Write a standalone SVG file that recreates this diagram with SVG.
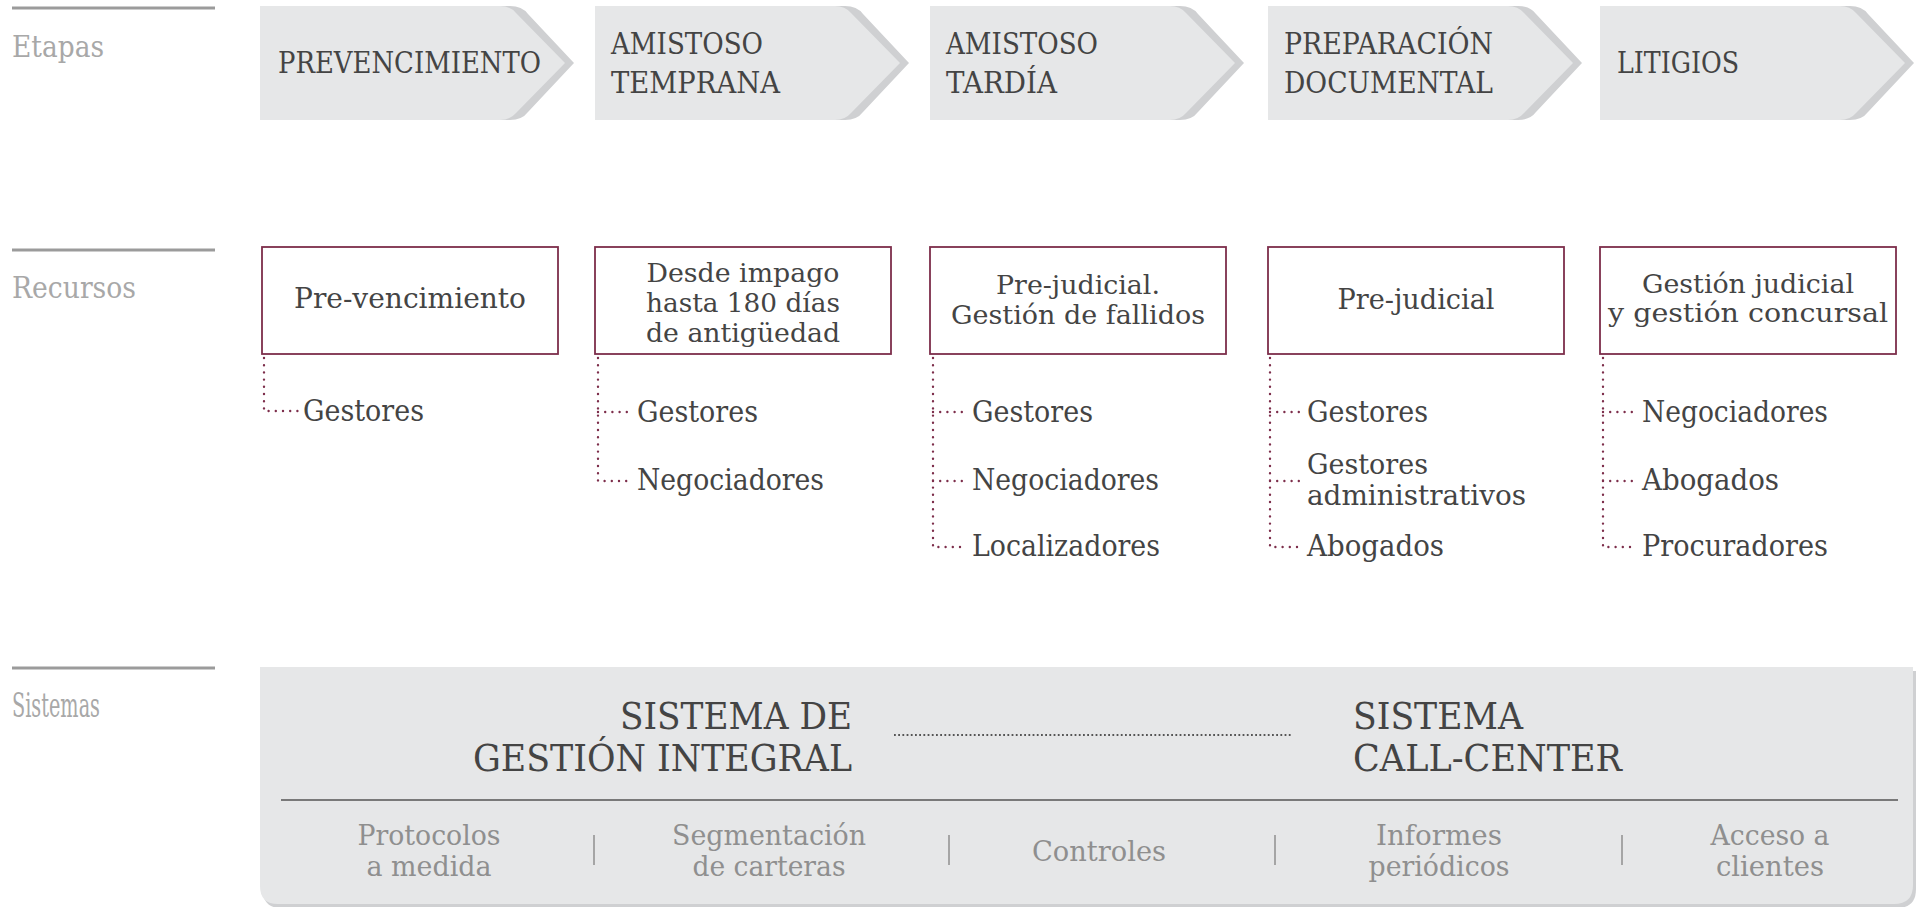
<svg xmlns="http://www.w3.org/2000/svg" width="1917" height="907" viewBox="0 0 1917 907">
<style>
.hl{stroke:#9b9b9b;stroke-width:3}
.lab{font-family:"DejaVu Serif",serif;font-size:30px;fill:#a8a8a8}
.labc{font-family:"DejaVu Serif Condensed","DejaVu Serif",serif;font-size:33px;fill:#a8a8a8}
.stg{font-family:"DejaVu Serif",serif;font-size:30px;fill:#444}
.bx{fill:#fff;stroke:#7d2e4b;stroke-width:1.8}
.bt{font-family:"DejaVu Serif",serif;font-size:28px;fill:#444;text-anchor:middle}
.bm{font-family:"DejaVu Serif",serif;font-size:26px;fill:#444;text-anchor:middle}
.it{font-family:"DejaVu Serif",serif;font-size:29px;fill:#444}
.im{font-family:"DejaVu Serif",serif;font-size:27px;fill:#444}
.dot{stroke:#7d2e4b;stroke-width:2.4;stroke-linecap:round;stroke-dasharray:0 7.2;fill:none}
.lt{fill:#e6e7e8}
.sh{fill:#cfd0d2}
.sys{font-family:"DejaVu Serif Condensed","DejaVu Serif",serif;font-size:37px;fill:#444}
.bi{font-family:"DejaVu Serif Condensed","DejaVu Serif",serif;font-size:28px;fill:#8f8f8f;text-anchor:middle}
.sep{stroke:#8f8f8f;stroke-width:1.5}
</style>
<defs>
<path id="shad" d="M10,6 H250 Q262,6 268,14 L314,63 L268,112 Q262,120 250,120 H10 Z"/>
<path id="chev" d="M0,6 H240 Q250,6 256,13 L305,63 L256,113 Q250,120 240,120 H0 Z"/>
</defs>

<g id="headers">
<line class="hl" x1="12" y1="8" x2="215" y2="8"/>
<text class="lab" x="12" y="57" textLength="92" lengthAdjust="spacingAndGlyphs">Etapas</text>
<line class="hl" x1="12" y1="250" x2="215" y2="250"/>
<text class="lab" x="12" y="298" textLength="124" lengthAdjust="spacingAndGlyphs">Recursos</text>
<line class="hl" x1="12" y1="668" x2="215" y2="668"/>
<text class="labc" x="12" y="717" textLength="88" lengthAdjust="spacingAndGlyphs">Sistemas</text>
</g>

<g id="stage1" transform="translate(260,0)">
<use href="#shad" class="sh"/><use href="#chev" class="lt"/>
<text class="stg" x="18" y="73" textLength="263" lengthAdjust="spacingAndGlyphs">PREVENCIMIENTO</text>
</g>
<g id="stage2" transform="translate(595,0)">
<use href="#shad" class="sh"/><use href="#chev" class="lt"/>
<text class="stg" x="16" y="54" textLength="152" lengthAdjust="spacingAndGlyphs">AMISTOSO</text>
<text class="stg" x="16" y="93" textLength="169" lengthAdjust="spacingAndGlyphs">TEMPRANA</text>
</g>
<g id="stage3" transform="translate(930,0)">
<use href="#shad" class="sh"/><use href="#chev" class="lt"/>
<text class="stg" x="16" y="54" textLength="152" lengthAdjust="spacingAndGlyphs">AMISTOSO</text>
<text class="stg" x="16" y="93" textLength="111" lengthAdjust="spacingAndGlyphs">TARDÍA</text>
</g>
<g id="stage4" transform="translate(1268,0)">
<use href="#shad" class="sh"/><use href="#chev" class="lt"/>
<text class="stg" x="16" y="54" textLength="209" lengthAdjust="spacingAndGlyphs">PREPARACIÓN</text>
<text class="stg" x="16" y="93" textLength="209" lengthAdjust="spacingAndGlyphs">DOCUMENTAL</text>
</g>
<g id="stage5" transform="translate(1600,0)">
<use href="#shad" class="sh"/><use href="#chev" class="lt"/>
<text class="stg" x="17" y="73" textLength="122" lengthAdjust="spacingAndGlyphs">LITIGIOS</text>
</g>

<g id="res1">
<rect class="bx" x="262" y="247" width="296" height="107"/>
<text class="bt" x="410" y="308" textLength="232" lengthAdjust="spacingAndGlyphs">Pre-vencimiento</text>
<text class="it" x="303" y="421" textLength="121" lengthAdjust="spacingAndGlyphs">Gestores</text>
</g>
<g id="res2">
<rect class="bx" x="595" y="247" width="296" height="107"/>
<text class="bm" x="743" y="282" textLength="193" lengthAdjust="spacingAndGlyphs">Desde impago</text>
<text class="bm" x="743" y="312" textLength="194" lengthAdjust="spacingAndGlyphs">hasta 180 días</text>
<text class="bm" x="743" y="342" textLength="194" lengthAdjust="spacingAndGlyphs">de antigüedad</text>
<text class="it" x="637" y="422" textLength="121" lengthAdjust="spacingAndGlyphs">Gestores</text>
<text class="it" x="637" y="490" textLength="187" lengthAdjust="spacingAndGlyphs">Negociadores</text>
</g>
<g id="res3">
<rect class="bx" x="930" y="247" width="296" height="107"/>
<text class="bm" x="1078" y="294" textLength="164" lengthAdjust="spacingAndGlyphs">Pre-judicial.</text>
<text class="bm" x="1078" y="324" textLength="254" lengthAdjust="spacingAndGlyphs">Gestión de fallidos</text>
<text class="it" x="972" y="422" textLength="121" lengthAdjust="spacingAndGlyphs">Gestores</text>
<text class="it" x="972" y="490" textLength="187" lengthAdjust="spacingAndGlyphs">Negociadores</text>
<text class="it" x="972" y="556" textLength="188" lengthAdjust="spacingAndGlyphs">Localizadores</text>
</g>
<g id="res4">
<rect class="bx" x="1268" y="247" width="296" height="107"/>
<text class="bt" x="1416" y="309" textLength="157" lengthAdjust="spacingAndGlyphs">Pre-judicial</text>
<text class="it" x="1307" y="422" textLength="121" lengthAdjust="spacingAndGlyphs">Gestores</text>
<text class="im" x="1307" y="474" textLength="121" lengthAdjust="spacingAndGlyphs">Gestores</text>
<text class="im" x="1307" y="505" textLength="219" lengthAdjust="spacingAndGlyphs">administrativos</text>
<text class="it" x="1307" y="556" textLength="137" lengthAdjust="spacingAndGlyphs">Abogados</text>
</g>
<g id="res5">
<rect class="bx" x="1600" y="247" width="296" height="107"/>
<text class="bm" x="1748" y="293" textLength="212" lengthAdjust="spacingAndGlyphs">Gestión judicial</text>
<text class="bm" x="1748" y="322" textLength="280" lengthAdjust="spacingAndGlyphs">y gestión concursal</text>
<text class="it" x="1642" y="422" textLength="186" lengthAdjust="spacingAndGlyphs">Negociadores</text>
<text class="it" x="1642" y="490" textLength="137" lengthAdjust="spacingAndGlyphs">Abogados</text>
<text class="it" x="1642" y="556" textLength="186" lengthAdjust="spacingAndGlyphs">Procuradores</text>
</g>

<g id="systems">
<path class="sh" d="M263,671 H1916 V889 Q1916,908 1897,908 H281 Q263,908 263,890 Z"/>
<path class="lt" d="M260,667 H1913 V885 Q1913,904 1894,904 H278 Q260,904 260,886 Z"/>
<text class="sys" x="852" y="729" text-anchor="end" textLength="232" lengthAdjust="spacingAndGlyphs">SISTEMA DE</text>
<text class="sys" x="852" y="771" text-anchor="end" textLength="379" lengthAdjust="spacingAndGlyphs">GESTIÓN INTEGRAL</text>
<text class="sys" x="1353" y="729" textLength="170" lengthAdjust="spacingAndGlyphs">SISTEMA</text>
<text class="sys" x="1353" y="771" textLength="269" lengthAdjust="spacingAndGlyphs">CALL-CENTER</text>
<line x1="281" y1="800" x2="1898" y2="800" stroke="#555" stroke-width="1.5"/>
<text class="bi" x="429" y="845" textLength="143" lengthAdjust="spacingAndGlyphs">Protocolos</text>
<text class="bi" x="429" y="876" textLength="125" lengthAdjust="spacingAndGlyphs">a medida</text>
<line class="sep" x1="594" y1="835" x2="594" y2="865"/>
<text class="bi" x="769" y="845" textLength="194" lengthAdjust="spacingAndGlyphs">Segmentación</text>
<text class="bi" x="769" y="876" textLength="153" lengthAdjust="spacingAndGlyphs">de carteras</text>
<line class="sep" x1="949" y1="835" x2="949" y2="865"/>
<text class="bi" x="1099" y="861" textLength="134" lengthAdjust="spacingAndGlyphs">Controles</text>
<line class="sep" x1="1275" y1="835" x2="1275" y2="865"/>
<text class="bi" x="1439" y="845" textLength="126" lengthAdjust="spacingAndGlyphs">Informes</text>
<text class="bi" x="1439" y="876" textLength="141" lengthAdjust="spacingAndGlyphs">periódicos</text>
<line class="sep" x1="1622" y1="835" x2="1622" y2="865"/>
<text class="bi" x="1770" y="845" textLength="119" lengthAdjust="spacingAndGlyphs">Acceso a</text>
<text class="bi" x="1770" y="876" textLength="108" lengthAdjust="spacingAndGlyphs">clientes</text>
</g>

<g id="connectors">
<path class="dot" d="M264,358 V411 H298"/>
<path class="dot" d="M598,358 V481 H632 M598,412 H632"/>
<path class="dot" d="M933,358 V547 H967 M933,412 H967 M933,481 H967"/>
<path class="dot" d="M1270,358 V547 H1302 M1270,412 H1302 M1270,481 H1302"/>
<path class="dot" d="M1603,358 V547 H1637 M1603,412 H1637 M1603,481 H1637"/>
<line x1="894" y1="735" x2="1293" y2="735" stroke="#555" stroke-width="1.8" stroke-dasharray="1.8 2.4"/>
</g>
</svg>
